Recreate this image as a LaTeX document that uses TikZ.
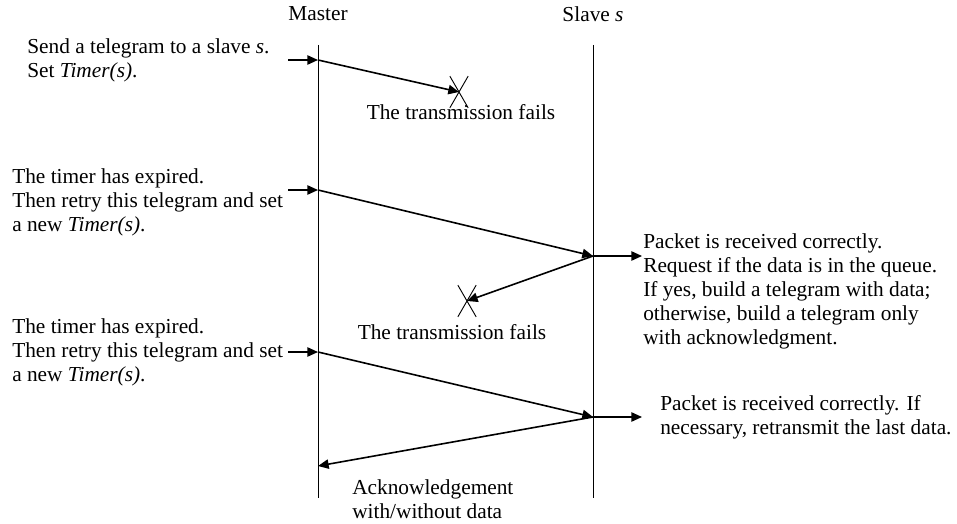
\documentclass[tikz,border=0pt]{standalone}
\usepackage{fontspec}
\setmainfont{Liberation Serif}
\usetikzlibrary{arrows.meta,positioning,shapes.misc}

\begin{document}
\begin{tikzpicture}[x=0.75pt,y=-0.75pt,
    font=\fontsize{16}{18}\selectfont,
    every node/.style={inner sep=0pt},
    msg/.style={-{Triangle[length=8pt,width=7pt]},line width=1.2pt},
    life/.style={line width=0.7pt},
    lost/.style={cross out,draw,line width=0.7pt,minimum width=13pt,minimum height=23pt},
    note/.style={align=left,anchor=west}]
  \useasboundingbox (0,0) rectangle (957,524);
  % lifelines
  \node (master) at (318,14) {Master};
  \node (slave) at (593,14) {Slave \textit{s}};
  \coordinate (mtop) at (318,45);
  \coordinate (mbot) at (318,498);
  \coordinate (stop) at (593,45);
  \coordinate (sbot) at (593,498);
  \draw[life] (mtop) -- (mbot);
  \draw[life] (stop) -- (sbot);
  % points on the lifelines
  \coordinate (in1) at (288,60);
  \coordinate (m1) at (318,60);
  \coordinate (in2) at (288,190);
  \coordinate (m2) at (318,190);
  \coordinate (s2) at (593,256);
  \coordinate (out2) at (642,256);
  \coordinate (in3) at (288,352);
  \coordinate (m3) at (318,352);
  \coordinate (s3) at (593,417);
  \coordinate (out3) at (642,417);
  \coordinate (m4) at (318,466);
  % lost telegrams
  \node[lost] (x1) at (459,92) {};
  \node[lost] (x2) at (467,301) {};
  \node (fail1) at (461,112) {The transmission fails};
  \node (fail2) at (452,332) {The transmission fails};
  % notes
  \node[note] (send) at (27,60) {Send a telegram to a slave \textit{s}.\\Set \textit{Timer(s)}.};
  \node[note] (retry1) at (12,202) {The timer has expired.\\Then retry this telegram and set\\a new \textit{Timer(s)}.};
  \node[note] (retry2) at (12,352) {The timer has expired.\\Then retry this telegram and set\\a new \textit{Timer(s)}.};
  \node[note] (recv1) at (643,291) {Packet is received correctly.\\Request if the data is in the queue.\\If yes, build a telegram with data;\\otherwise, build a telegram only\\with acknowledgment.};
  \node[note] (recv2) at (660,417) {Packet is received correctly. If\\necessary, retransmit the last data.};
  \node[note] (ack) at (352,499) {Acknowledgement\\with/without data};
  % messages
  \draw[msg] (in1) -- (m1);
  \draw[msg] (m1) -- (x1.center);
  \draw[msg] (in2) -- (m2);
  \draw[msg] (m2) -- (s2);
  \draw[msg] (s2) -- (out2);
  \draw[msg] (s2) -- (x2.center);
  \draw[msg] (in3) -- (m3);
  \draw[msg] (m3) -- (s3);
  \draw[msg] (s3) -- (out3);
  \draw[msg] (s3) -- (m4);
\end{tikzpicture}
\end{document}
